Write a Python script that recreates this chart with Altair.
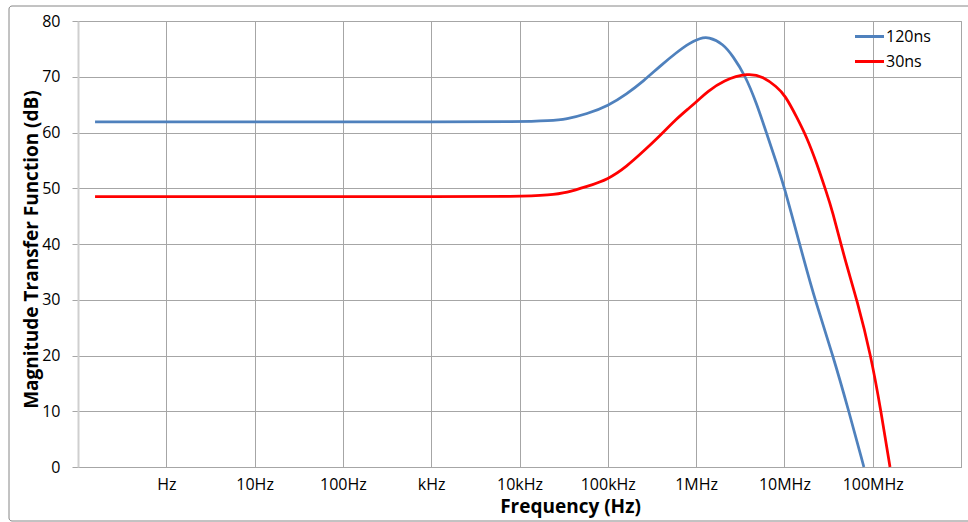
import altair as alt
import pandas as pd

# ---- data ----
tick_values = [0.1, 1, 10, 100, 1e3, 1e4, 1e5, 1e6, 1e7, 1e8, 1e9]
tick_labels = ["", "Hz", "10Hz", "100Hz", "kHz", "10kHz", "100kHz", "1MHz", "10MHz", "100MHz", ""]

series_names = ["120ns", "30ns"]
series_colors = ["#4F81BD", "#FF0000"]

freq_120 = [0.156, 1, 10, 100, 1000, 10000, 22080, 34200, 57700, 101400, 163700,
            252400, 390000, 602600, 853000, 1107000, 1374000, 2032000, 2636000,
            3581000, 4853000, 6295000, 8185000, 10160000, 11560000, 16670000,
            22180000, 35480000, 53700000, 79430000]
mag_120 = [61.9, 61.9, 61.9, 61.9, 61.9, 61.9, 62.1, 62.4, 63.3, 64.8, 66.9,
           69.2, 71.9, 74.4, 76.1, 76.9, 77.2, 75.9, 73.6,
           70.3, 65.2, 59.8, 54.5, 49.7, 46.4, 37.1,
           30.0, 20.0, 10.0, 0.0]

freq_30 = [0.156, 1, 10, 100, 1000, 10000, 22080, 34200, 57700, 101400, 163700,
           252400, 390000, 602600, 853000, 1107000, 1318000, 2032000, 3899000,
           5768000, 8185000, 10160000, 13770000, 17870000, 23230000, 30130000,
           34360000, 48530000, 66370000, 95500000, 124200000, 157000000]
mag_30 = [48.5, 48.5, 48.5, 48.5, 48.5, 48.5, 48.8, 49.2, 50.3, 51.6, 53.9,
          56.6, 59.4, 62.5, 64.5, 66.1, 67.2, 69.4, 70.7,
          70.0, 68.2, 66.7, 62.8, 59.2, 54.5, 49.1,
          46.4, 37.1, 30.0, 20.0, 10.0, 0.0]

df = pd.concat([
    pd.DataFrame({"series": series_names[0], "freq": freq_120, "mag": mag_120}),
    pd.DataFrame({"series": series_names[1], "freq": freq_30, "mag": mag_30}),
])

label_expr = "[" + ",".join("'" + t + "'" for t in tick_labels) + "][round(log(datum.value)/LN10)+1]"

FONT = "Open Sans"
GRID = "#a6a6a6"

lines = alt.Chart(df).mark_line(strokeWidth=2.75, interpolate="basis").encode(
    x=alt.X("freq:Q",
            scale=alt.Scale(type="log", domain=[0.1, 1e9], nice=False),
            axis=alt.Axis(values=tick_values, labelExpr=label_expr, title="Frequency (Hz)",
                          grid=True, gridColor=GRID, gridWidth=1,
                          ticks=False, tickSize=0, labelPadding=22,
                          labelBaseline="alphabetic", labelFont=FONT, labelFontSize=16,
                          labelColor="#000000", domainColor=GRID, labelFlush=False,
                          titleFont=FONT, titleFontSize=19, titleFontWeight="bold",
                          titleColor="#000000", titleX=492, titleY=45,
                          titleBaseline="alphabetic", titleAlign="center")),
    y=alt.Y("mag:Q",
            scale=alt.Scale(domain=[0, 80], nice=False),
            axis=alt.Axis(values=[0, 10, 20, 30, 40, 50, 60, 70, 80],
                          title="Magnitude Transfer  Function (dB)",
                          grid=True, gridColor=GRID, gridWidth=1,
                          ticks=True, tickSize=6, tickColor=GRID, labelPadding=12,
                          labelFont=FONT, labelFontSize=16, labelColor="#000000",
                          domainColor="#cfcfcf", domainWidth=2,
                          titleFont=FONT, titleFontSize=19, titleFontWeight="bold",
                          titleColor="#000000", titleX=-41, titleY=228,
                          titleAngle=-90, titleBaseline="alphabetic", titleAlign="center")),
    color=alt.Color("series:N",
                    scale=alt.Scale(domain=series_names, range=series_colors),
                    legend=alt.Legend(title=None, orient="none", legendX=780, legendY=4,
                                      symbolType="M-1.45,0L1.45,0", symbolSize=400,
                                      symbolStrokeWidth=3, labelFont=FONT, labelFontSize=16,
                                      labelColor="#000000", labelOffset=5, rowPadding=5)),
)

border = alt.Chart(alt.Data(values=[{"a": 1}])).mark_rect(
    fill=None, stroke="#868686", strokeWidth=1, cornerRadius=3
).encode(x=alt.value(-69), x2=alt.value(893), y=alt.value(-15), y2=alt.value(500))

chart = alt.layer(border, lines).properties(
    width=883, height=446,
    autosize=alt.AutoSizeParams(type="none"),
    padding={"left": 78, "top": 21, "right": 7, "bottom": 55},
    background="white",
).configure_view(stroke=GRID)

chart.save("out.html", embed_options={"renderer": "svg", "actions": False})
